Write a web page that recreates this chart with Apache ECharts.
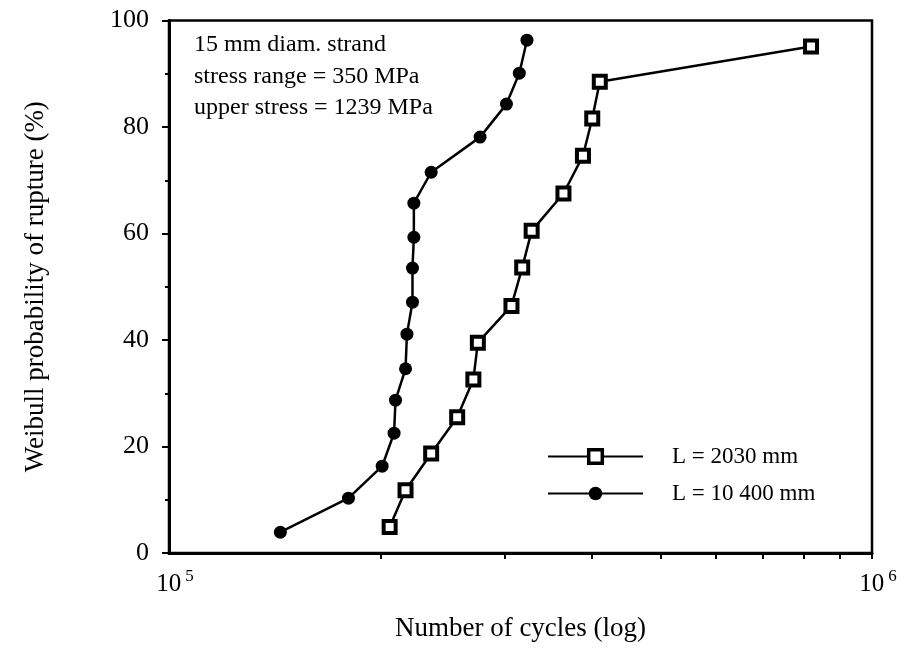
<!DOCTYPE html>
<html>
<head>
<meta charset="utf-8">
<script src="https://cdn.jsdelivr.net/npm/echarts@6/dist/echarts.min.js"></script>
<style>
html,body{margin:0;padding:0;background:#fff;}
#chart{width:907px;height:654px;}
</style>
</head>
<body>
<div id="chart"></div>
<script>
// Data (cycles, Weibull probability %)
const cycles2030 = [2.06e5, 2.17e5, 2.36e5, 2.57e5, 2.71e5, 2.75e5, 3.07e5, 3.18e5, 3.28e5, 3.64e5, 3.88e5, 4.00e5, 4.10e5, 8.19e5];
const prob2030   = [4.9, 11.8, 18.7, 25.5, 32.6, 39.5, 46.4, 53.6, 60.5, 67.5, 74.6, 81.6, 88.5, 95.1];
const cycles10400 = [1.44e5, 1.80e5, 2.01e5, 2.09e5, 2.10e5, 2.17e5, 2.18e5, 2.22e5, 2.22e5, 2.23e5, 2.23e5, 2.36e5, 2.77e5, 3.02e5, 3.15e5, 3.23e5];
const prob10400   = [3.9, 10.3, 16.3, 22.5, 28.7, 34.6, 41.1, 47.1, 53.5, 59.3, 65.7, 71.5, 78.1, 84.3, 90.1, 96.3];
const seriesNames = ['L = 2030 mm', 'L = 10 400 mm'];
const xLabelValues = [1e5, 1e6];
const xMinorTickValues = [2e5, 3e5, 4e5, 5e5, 6e5, 7e5, 8e5, 9e5, 1e6];
const annotationLines = ['15 mm diam. strand', 'stress range = 350 MPa', 'upper stress = 1239 MPa'];

const FONT = '"Liberation Serif", "DejaVu Serif", serif';
const pair = (xs, ys) => xs.map((x, i) => [x, ys[i]]);

const chart = echarts.init(document.getElementById('chart'));
chart.setOption({
  backgroundColor: '#fff',
  animation: false,
  textStyle: { fontFamily: FONT, color: '#000' },
  grid: {
    left: 169, right: 35, top: 20.5, bottom: 101,
    show: true, borderColor: '#000', borderWidth: 2.5, backgroundColor: 'transparent'
  },
  legend: {
    orient: 'vertical',
    left: 542, top: 440,
    itemWidth: 95, itemHeight: 17, itemGap: 14,
    textStyle: { fontFamily: FONT, fontSize: 23, color: '#000', padding: [0, 0, 0, 24] },
    data: [
      { name: seriesNames[0], itemStyle: { color: '#fff', borderColor: '#000', borderWidth: 3.5 } },
      { name: seriesNames[1], itemStyle: { color: '#000', borderColor: '#000', borderWidth: 0 } }
    ]
  },
  xAxis: {
    type: 'log', logBase: 10, min: 1e5, max: 1e6,
    name: 'Number of cycles (log)',
    nameLocation: 'middle', nameGap: 62,
    nameTextStyle: { fontFamily: FONT, fontSize: 27, color: '#000' },
    axisLine: { show: true, onZero: false, lineStyle: { color: '#000', width: 3 } },
    axisTick: { show: true, inside: false, length: 6, lineStyle: { color: '#000', width: 2 }, customValues: xMinorTickValues },
    axisLabel: {
      customValues: xLabelValues,
      margin: 11,
      formatter: v => '{b|10}{s|' + Math.round(Math.log10(v)) + '}',
      rich: {
        b: { fontFamily: FONT, fontSize: 25, color: '#000', padding: [8, 0, 0, 12] },
        s: { fontFamily: FONT, fontSize: 17, color: '#000', padding: [0, 0, 8, 4] }
      }
    },
    splitLine: { show: false },
    minorTick: { show: false }
  },
  yAxis: {
    type: 'value', min: 0, max: 100, interval: 20,
    name: 'Weibull probability of rupture (%)',
    nameLocation: 'middle', nameGap: 120, nameRotate: 90,
    nameTextStyle: { fontFamily: FONT, fontSize: 27, color: '#000' },
    axisLine: { show: true, lineStyle: { color: '#000', width: 3 } },
    axisTick: { show: true, inside: false, length: 7, lineStyle: { color: '#000', width: 2 } },
    minorTick: { show: true, splitNumber: 2, length: 4, lineStyle: { color: '#000', width: 2 } },
    axisLabel: { fontFamily: FONT, fontSize: 26, color: '#000', margin: 20 },
    splitLine: { show: false }
  },
  graphic: [{
    type: 'group', left: 194, top: 33,
    children: annotationLines.map((t, i) => ({
      type: 'text', left: 0, top: i * 31.5,
      style: { text: t, font: '24px ' + FONT, fill: '#000' }
    }))
  }],
  series: [
    {
      name: seriesNames[0], type: 'line',
      data: pair(cycles2030, prob2030),
      symbol: 'rect', symbolSize: 12,
      lineStyle: { color: '#000', width: 2.5 },
      itemStyle: { color: '#fff', borderColor: '#000', borderWidth: 4 },
      z: 3
    },
    {
      name: seriesNames[1], type: 'line',
      data: pair(cycles10400, prob10400),
      symbol: 'circle', symbolSize: 13,
      lineStyle: { color: '#000', width: 2.5 },
      itemStyle: { color: '#000', borderColor: '#000', borderWidth: 0 },
      z: 2
    }
  ]
});
</script>
</body>
</html>
